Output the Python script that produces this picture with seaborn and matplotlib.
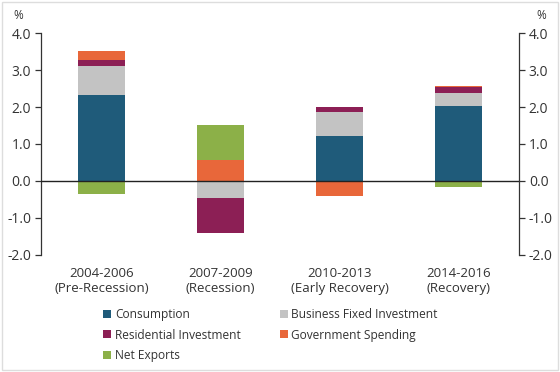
import numpy as np
import pandas as pd
import matplotlib
matplotlib.use("Agg")
import matplotlib.pyplot as plt
import seaborn as sns
from matplotlib.patches import Rectangle
from matplotlib.lines import Line2D

periods = ["2004-2006\n(Pre-Recession)", "2007-2009\n(Recession)",
           "2010-2013\n(Early Recovery)", "2014-2016\n(Recovery)"]
consumption = [2.33, 0.00, 1.22, 2.03]
business_fixed = [0.78, -0.47, 0.64, 0.34]
residential = [0.17, -0.95, 0.15, 0.16]
government = [0.23, 0.56, -0.41, 0.04]
net_exports = [-0.35, 0.95, 0.00, -0.16]

series_names = ["Consumption", "Business Fixed Investment", "Residential Investment",
                "Government Spending", "Net Exports"]
series_vals = [consumption, business_fixed, residential, government, net_exports]
colors = ["#1f5b7a", "#c3c3c3", "#8c1f55", "#e8673a", "#8cb048"]

sns.set_theme(style="white")
plt.rcParams["font.family"] = ["Open Sans", "DejaVu Sans"]
text_color = "#333333"

fig = plt.figure(figsize=(5.6, 3.72), dpi=100)
ax = fig.add_axes([0.073, 0.315, 0.854, 0.596])

df = pd.DataFrame({"period": periods})
pos_base = np.zeros(len(periods))
neg_base = np.zeros(len(periods))
for name, vals, c in zip(series_names, series_vals, colors):
    v = np.array(vals, dtype=float)
    bottoms = np.where(v >= 0, pos_base, neg_base)
    df[name] = v
    sns.barplot(data=df, x="period", y=name, bottom=bottoms, color=c,
                saturation=1, width=0.395, errorbar=None, ax=ax,
                linewidth=0)
    pos_base = pos_base + np.where(v > 0, v, 0)
    neg_base = neg_base + np.where(v < 0, v, 0)

ax.axhline(0, color="#222222", lw=1.0, zorder=5)
ax.set_ylim(-2, 4)
ax.set_xlim(-0.51, 3.51)
ax.set_yticks([-2, -1, 0, 1, 2, 3, 4])
ax.set_yticklabels([f"{t:.1f}" for t in [-2, -1, 0, 1, 2, 3, 4]])
ax.set_xlabel("")
ax.set_ylabel("")
for s in ["top", "right", "bottom"]:
    ax.spines[s].set_visible(False)
ax.spines["left"].set_color("#333333")
ax.spines["left"].set_linewidth(0.9)
ax.tick_params(axis="y", direction="out", length=4, width=0.9, color="#333333",
               labelsize=10, labelcolor=text_color, pad=3, left=True)
ax.tick_params(axis="x", length=0, labelsize=9.5, labelcolor=text_color, pad=9)
for lab in ax.get_xticklabels():
    lab.set_linespacing(1.2)

ax2 = ax.twinx()
ax2.set_ylim(-2, 4)
ax2.set_yticks([-2, -1, 0, 1, 2, 3, 4])
ax2.set_yticklabels([f"{t:.1f}" for t in [-2, -1, 0, 1, 2, 3, 4]])
for s in ["top", "left", "bottom"]:
    ax2.spines[s].set_visible(False)
ax2.spines["right"].set_color("#333333")
ax2.spines["right"].set_linewidth(0.9)
ax2.tick_params(axis="y", direction="out", length=4, width=0.9, color="#333333",
                labelsize=10, labelcolor=text_color, pad=3, right=True)
ax2.grid(False)
ax.grid(False)

fig.text(0.024, 0.958, "%", fontsize=8.5, color=text_color, ha="left", va="center")
fig.text(0.976, 0.958, "%", fontsize=8.5, color=text_color, ha="right", va="center")

order = [0, 2, 4, 1, 3]
handles = [Line2D([], [], marker="s", linestyle="", markersize=5.5,
                  markerfacecolor=colors[i], markeredgewidth=0) for i in order]
labels = [series_names[i] for i in order]
fig.legend(handles, labels, ncol=2, loc="upper left", bbox_to_anchor=(0.185, 0.171),
           frameon=False, fontsize=8.6, handlelength=0.6, handletextpad=0.35,
           columnspacing=3.3, labelspacing=0.6, borderaxespad=0, borderpad=0,
           labelcolor=text_color)

fig.patches.append(Rectangle((0.004, 0.006), 0.992, 0.988, transform=fig.transFigure,
                             fill=False, edgecolor="#dddddd", lw=1))

fig.savefig("out.png", dpi=100)
